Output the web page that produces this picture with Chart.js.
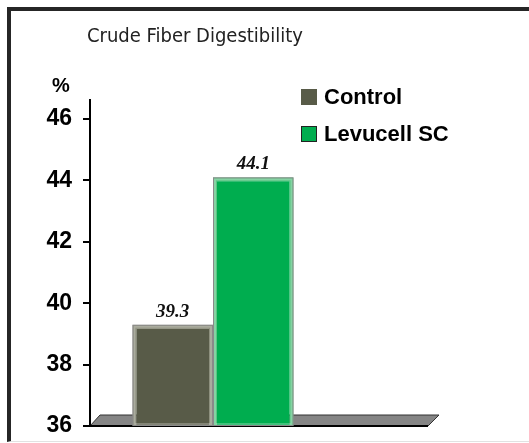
<!DOCTYPE html>
<html>
<head>
<meta charset="utf-8">
<script src="https://cdn.jsdelivr.net/npm/chart.js@4/dist/chart.umd.min.js"></script>
<style>
    body { margin: 0; background: #fff; }
    #frame {
        position: absolute; left: 7px; top: 7px; width: 560px; height: 435px;
        border-top: 4px solid #262626; border-left: 4px solid #262626;
        border-bottom: 1px solid #e2e2e2; box-sizing: border-box;
    }
    #line-chart { position: absolute; left: 0; top: 0; }
</style>
</head>
<body>
<div id="frame"></div>
<canvas id="line-chart" width="529" height="443"></canvas>
<script>
var chartTitle = 'Crude Fiber Digestibility';
var unitLabel = '%';
var categories = [''];
var seriesNames = ['Control', 'Levucell SC'];
var seriesValues = [39.3, 44.1];
var seriesColors = ['#585b48', '#00ad4f'];
var seriesEdges = ['#8e907e', '#5cc584'];
var yTicks = [36, 38, 40, 42, 44, 46];

// title, % label, legend, floor and value labels
var decorPlugin = {
    id: 'decor',
    beforeDatasetsDraw: function (chart) {
        var ctx = chart.ctx, a = chart.chartArea;
        ctx.save();
        // grey floor under the bars
        ctx.beginPath();
        ctx.moveTo(a.left, a.bottom);
        ctx.lineTo(a.left + 10, a.bottom - 11);
        ctx.lineTo(a.left + 349, a.bottom - 11);
        ctx.lineTo(a.left + 338, a.bottom);
        ctx.closePath();
        ctx.fillStyle = '#858585';
        ctx.fill();
        ctx.strokeStyle = '#333';
        ctx.lineWidth = 1;
        ctx.stroke();
        ctx.beginPath();
        ctx.moveTo(a.left, a.bottom);
        ctx.lineTo(a.left + 338, a.bottom);
        ctx.lineWidth = 2;
        ctx.strokeStyle = '#000';
        ctx.stroke();
        ctx.restore();
    },
    afterDatasetsDraw: function (chart) {
        var ctx = chart.ctx, a = chart.chartArea;
        ctx.save();
        for (var i = 0; i < seriesValues.length; i++) {
            var bar = chart.getDatasetMeta(i).data[0];
            var half = bar.width / 2;
            var bottom = Math.min(bar.base, a.bottom);
            // soft inner edge
            ctx.strokeStyle = 'rgba(255,255,255,0.25)';
            ctx.lineWidth = 2;
            ctx.strokeRect(bar.x - half + 2, bar.y + 2, bar.width - 4, bottom - bar.y - 4);
            ctx.strokeStyle = '#8a8a8a';
            ctx.lineWidth = 1;
            ctx.strokeRect(bar.x - half + 0.5, bar.y + 0.5, bar.width - 1, bottom - bar.y - 1);
            ctx.font = 'italic bold 19px "Liberation Serif", "Times New Roman", serif';
            ctx.fillStyle = '#111';
            ctx.textAlign = 'center';
            ctx.textBaseline = 'alphabetic';
            ctx.fillText(seriesValues[i].toFixed(1), bar.x, bar.y - 8);
        }

        // title
        ctx.font = '20px "Liberation Sans Narrow", "DejaVu Sans Condensed", sans-serif';
        ctx.fillStyle = '#222';
        ctx.textAlign = 'left';
        ctx.fillText(chartTitle, 87, 42);

        // % above the y axis
        ctx.font = 'bold 20px "Liberation Sans", Arial, sans-serif';
        ctx.fillStyle = '#000';
        ctx.textAlign = 'center';
        ctx.fillText(unitLabel, 61, 92);

        // legend
        for (var j = 0; j < seriesNames.length; j++) {
            var y = 89 + j * 37;
            ctx.fillStyle = seriesColors[j];
            ctx.fillRect(301, y, 16, 16);
            if (j > 0) {
                ctx.strokeStyle = '#222';
                ctx.lineWidth = 1;
                ctx.strokeRect(301.5, y + 0.5, 15, 15);
            }
            ctx.font = 'bold 22px "Liberation Sans", Arial, sans-serif';
            ctx.fillStyle = '#000';
            ctx.textAlign = 'left';
            ctx.textBaseline = 'middle';
            ctx.fillText(seriesNames[j], 324, y + 9);
        }
        ctx.restore();
    }
};

var datasets = [];
for (var i = 0; i < seriesNames.length; i++) {
    datasets.push({
        label: seriesNames[i],
        data: [seriesValues[i]],
        backgroundColor: seriesColors[i],
        borderColor: seriesEdges[i],
        borderWidth: 4,
        barPercentage: 1,
        categoryPercentage: 0.655
    });
}

var lineChart = new Chart(document.getElementById('line-chart'), {
    type: 'bar',
    data: { labels: categories, datasets: datasets },
    plugins: [decorPlugin],
    options: {
        responsive: false,
        animation: false,
        devicePixelRatio: 1,
        layout: { padding: { top: 100, right: 193, bottom: 17, left: 0 } },
        plugins: {
            legend: { display: false },
            title: { display: false },
            tooltip: { enabled: false }
        },
        scales: {
            x: { display: false },
            y: {
                min: 36,
                max: 46.62,
                afterFit: function (scale) {
                    scale.width = 90;
                    scale.paddingTop = 0;
                    scale.paddingBottom = 0;
                },
                afterBuildTicks: function (scale) {
                    scale.ticks = yTicks.map(function (v) { return { value: v }; });
                },
                border: { color: '#000', width: 2 },
                grid: { drawOnChartArea: false, color: '#000', lineWidth: 2, tickLength: 7 },
                ticks: {
                    padding: 11,
                    color: '#000',
                    font: { family: '"Liberation Sans", Arial, sans-serif', size: 23, weight: 'bold' }
                }
            }
        }
    }
});
</script>
</body>
</html>
